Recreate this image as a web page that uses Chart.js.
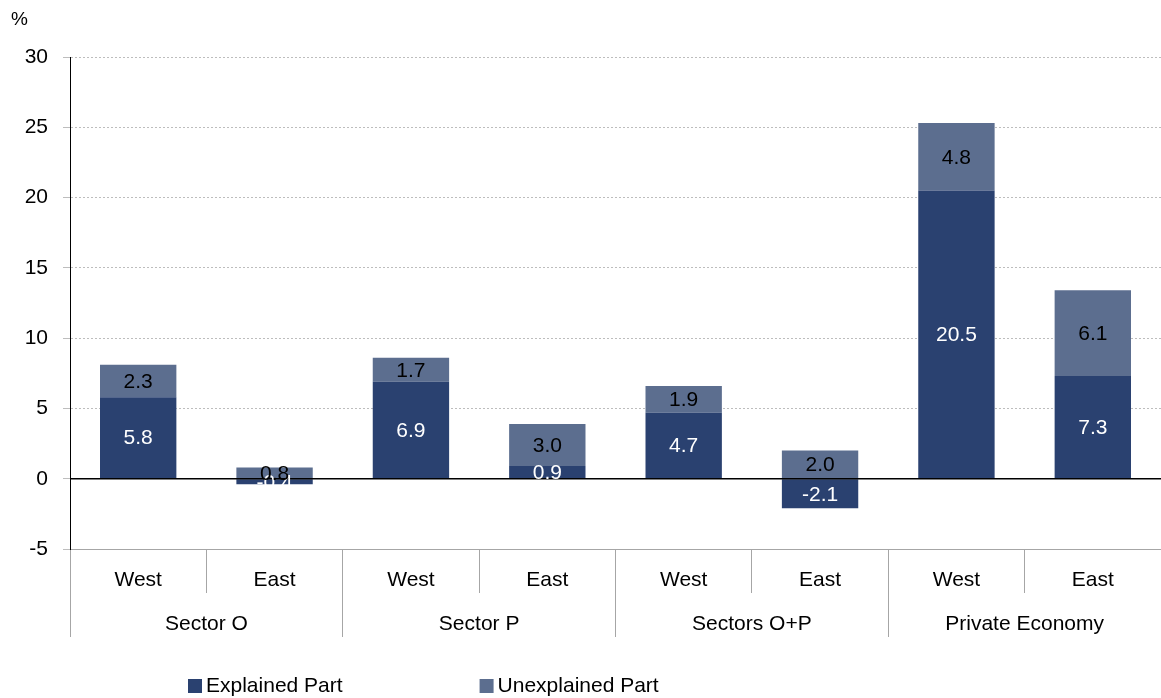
<!DOCTYPE html>
<html>
  <head>
    <title>Explained and Unexplained Part</title>
    <script src="https://cdn.jsdelivr.net/npm/chart.js"></script>
    <style>
      body { margin: 0; background: #fff; }
      #wrap { width: 1161px; height: 698px; }
    </style>
  </head>
  <body>
    <div id="wrap"><canvas id="gap-chart" width="1161" height="698"></canvas></div>
    <script>
      var regions = ['West', 'East', 'West', 'East', 'West', 'East', 'West', 'East'];
      var sectors = ['Sector O', 'Sector P', 'Sectors O+P', 'Private Economy'];
      var explained = [5.8, -0.4, 6.9, 0.9, 4.7, -2.1, 20.5, 7.3];
      var unexplained = [2.3, 0.8, 1.7, 3.0, 1.9, 2.0, 4.8, 6.1];
      var yMin = -5, yMax = 30, yStep = 5;

      var fontFamily = "'Liberation Sans', Arial, sans-serif";
      var darkBlue = '#2a4170';
      var greyBlue = '#5c6e8f';

      // value labels in the middle of each segment
      var barLabels = {
        id: 'barLabels',
        afterDatasetsDraw: function (chart) {
          var ctx = chart.ctx;
          var y = chart.scales.y;
          // zero line on top of the bars
          ctx.save();
          ctx.strokeStyle = '#000';
          ctx.lineWidth = 1.5;
          ctx.beginPath();
          ctx.moveTo(chart.chartArea.left, y.getPixelForValue(0));
          ctx.lineTo(chart.chartArea.right, y.getPixelForValue(0));
          ctx.stroke();

          ctx.font = '21px ' + fontFamily;
          ctx.textAlign = 'center';
          ctx.textBaseline = 'middle';
          chart.data.datasets.forEach(function (ds, i) {
            var meta = chart.getDatasetMeta(i);
            ctx.fillStyle = i === 0 ? '#fff' : '#000';
            meta.data.forEach(function (bar, j) {
              var mid = (bar.y + bar.base) / 2;
              ctx.fillText(ds.data[j].toFixed(1), bar.x, mid + 1);
            });
          });
          ctx.restore();
        },
      };

      // "%" unit and the legend row at the bottom
      var extras = {
        id: 'extras',
        afterDraw: function (chart) {
          var ctx = chart.ctx;
          ctx.save();
          ctx.font = '19px ' + fontFamily;
          ctx.fillStyle = '#000';
          ctx.textAlign = 'left';
          ctx.textBaseline = 'middle';
          ctx.fillText('%', 11, 20);

          ctx.font = '21px ' + fontFamily;
          var x = 188;
          var yMid = 686;
          chart.data.datasets.forEach(function (ds) {
            ctx.fillStyle = ds.backgroundColor;
            ctx.fillRect(x, yMid - 7, 14, 14);
            ctx.fillStyle = '#000';
            ctx.fillText(ds.label, x + 18, yMid);
            x += 18 + ctx.measureText(ds.label).width + 137;
          });
          ctx.restore();
        },
      };

      var chart = new Chart(document.getElementById('gap-chart'), {
        type: 'bar',
        data: {
          labels: regions,
          datasets: [
            {
              label: 'Explained Part',
              data: explained,
              backgroundColor: darkBlue,
              categoryPercentage: 1,
              barPercentage: 0.56,
            },
            {
              label: 'Unexplained Part',
              data: unexplained,
              backgroundColor: greyBlue,
              categoryPercentage: 1,
              barPercentage: 0.56,
            },
          ],
        },
        options: {
          responsive: false,
          animation: false,
          layout: { padding: { top: 57, right: 0, bottom: 61, left: 0 } },
          plugins: {
            legend: { display: false },
            tooltip: { enabled: false },
          },
          scales: {
            x: {
              stacked: true,
              weight: 0,
              offset: true,
              grid: {
                offset: true,
                drawOnChartArea: false,
                tickLength: 44,
                color: '#a6a6a6',
              },
              border: { display: true, color: '#a6a6a6' },
              ticks: {
                padding: -25,
                color: '#000',
                font: { family: fontFamily, size: 21 },
                maxRotation: 0,
              },
              afterFit: function (scale) { scale.height = 44; },
            },
            x2: {
              type: 'category',
              position: 'bottom',
              labels: sectors,
              weight: 1,
              offset: true,
              grid: {
                offset: true,
                drawOnChartArea: false,
                tickLength: 44,
                color: '#a6a6a6',
              },
              border: { display: false },
              ticks: {
                padding: -25,
                color: '#000',
                font: { family: fontFamily, size: 21 },
                maxRotation: 0,
              },
              afterFit: function (scale) { scale.height = 44; },
            },
            y: {
              stacked: true,
              min: yMin,
              max: yMax,
              ticks: {
                stepSize: yStep,
                padding: 15,
                color: '#000',
                font: { family: fontFamily, size: 21 },
              },
              grid: {
                color: '#bdbdbd',
                tickLength: 7,
              },
              border: { display: true, color: '#000', width: 1, dash: [2, 2] },
              afterFit: function (scale) { scale.width = 70; },
            },
          },
        },
        plugins: [barLabels, extras],
      });
    </script>
  </body>
</html>
